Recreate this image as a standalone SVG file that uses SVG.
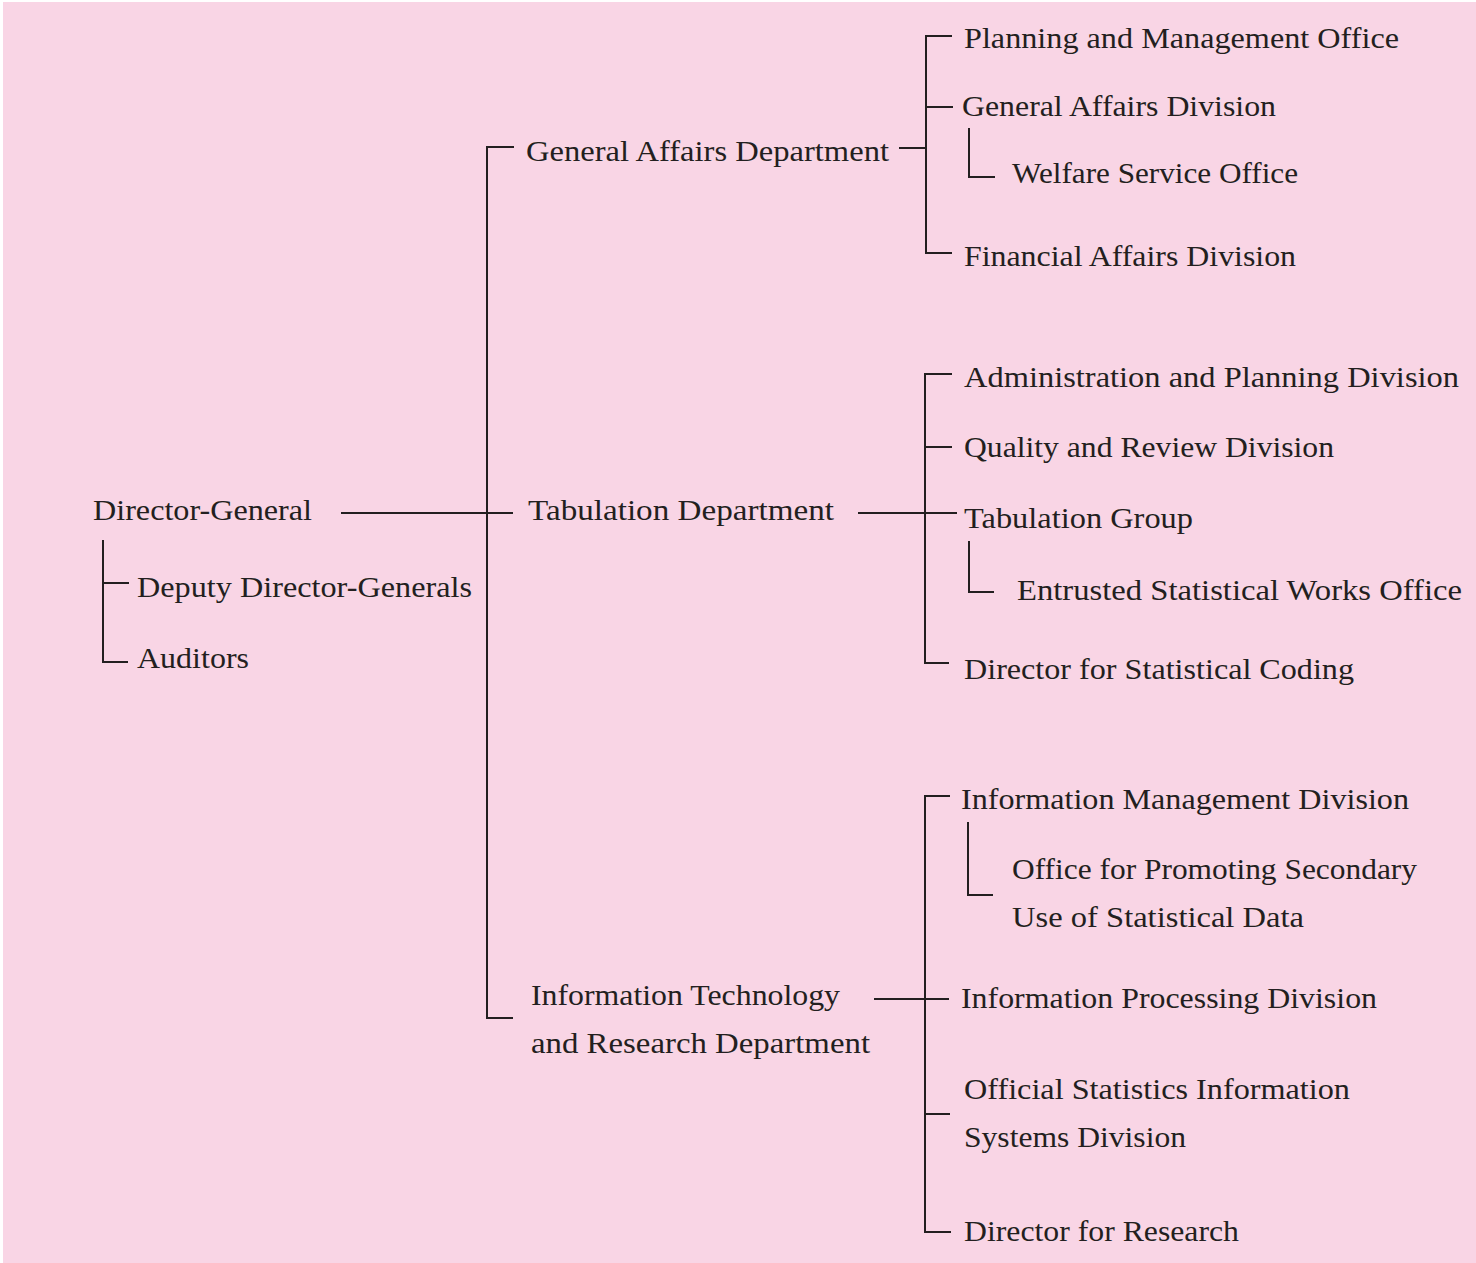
<svg xmlns="http://www.w3.org/2000/svg" width="1476" height="1263" viewBox="0 0 1476 1263">
<style>
.t{font-family:"Liberation Serif","Times New Roman",serif;font-size:29px;fill:#231f20;lengthAdjust:spacingAndGlyphs}
.c{stroke:#231f20;stroke-width:2;fill:none;stroke-linecap:square}
</style>
<rect x="0" y="0" width="1476" height="1263" fill="#ffffff"/>
<rect x="3" y="2" width="1473" height="1261" fill="#f9d5e5"/>
<g id="connectors" class="c">
<path d="M103,541 V662 H127 M103,583 H128"/>
<path d="M342,513 H512 M513,147 H487 V1018 H512"/>
<path d="M900,148 H926 M951,36 H926 V253 H951 M926,107 H952 M969,129 V177 H994"/>
<path d="M859,513 H956 M951,374 H925 V663 H948 M925,447 H951 M969,542 V592 H993"/>
<path d="M875,999 H948 M949,796 H925 V1232 H950 M925,1114 H949 M968,823 V895 H992"/>
</g>
<g id="director-general"><text class="t" x="93" y="520" textLength="219" lengthAdjust="spacingAndGlyphs">Director-General</text></g>
<g id="deputy"><text class="t" x="137" y="597" textLength="335" lengthAdjust="spacingAndGlyphs">Deputy Director-Generals</text></g>
<g id="auditors"><text class="t" x="137" y="668" textLength="112" lengthAdjust="spacingAndGlyphs">Auditors</text></g>
<g id="general-affairs-dept"><text class="t" x="526" y="161" textLength="363" lengthAdjust="spacingAndGlyphs">General Affairs Department</text></g>
<g id="tabulation-dept"><text class="t" x="528" y="520" textLength="306" lengthAdjust="spacingAndGlyphs">Tabulation Department</text></g>
<g id="it-research-dept"><text class="t" x="531" y="1005" textLength="309" lengthAdjust="spacingAndGlyphs">Information Technology</text><text class="t" x="531" y="1053" textLength="339" lengthAdjust="spacingAndGlyphs">and Research Department</text></g>
<g id="planning-mgmt"><text class="t" x="964" y="48" textLength="435" lengthAdjust="spacingAndGlyphs">Planning and Management Office</text></g>
<g id="general-affairs-div"><text class="t" x="962" y="116" textLength="314" lengthAdjust="spacingAndGlyphs">General Affairs Division</text></g>
<g id="welfare"><text class="t" x="1012" y="183" textLength="286" lengthAdjust="spacingAndGlyphs">Welfare Service Office</text></g>
<g id="financial"><text class="t" x="964" y="266" textLength="332" lengthAdjust="spacingAndGlyphs">Financial Affairs Division</text></g>
<g id="admin-planning"><text class="t" x="964" y="387" textLength="495" lengthAdjust="spacingAndGlyphs">Administration and Planning Division</text></g>
<g id="quality-review"><text class="t" x="964" y="457" textLength="370" lengthAdjust="spacingAndGlyphs">Quality and Review Division</text></g>
<g id="tabulation-group"><text class="t" x="964" y="528" textLength="229" lengthAdjust="spacingAndGlyphs">Tabulation Group</text></g>
<g id="entrusted"><text class="t" x="1017" y="600" textLength="445" lengthAdjust="spacingAndGlyphs">Entrusted Statistical Works Office</text></g>
<g id="coding"><text class="t" x="964" y="679" textLength="390" lengthAdjust="spacingAndGlyphs">Director for Statistical Coding</text></g>
<g id="info-mgmt"><text class="t" x="961" y="809" textLength="448" lengthAdjust="spacingAndGlyphs">Information Management Division</text></g>
<g id="secondary-use"><text class="t" x="1012" y="879" textLength="405" lengthAdjust="spacingAndGlyphs">Office for Promoting Secondary</text><text class="t" x="1012" y="927" textLength="292" lengthAdjust="spacingAndGlyphs">Use of Statistical Data</text></g>
<g id="info-processing"><text class="t" x="961" y="1008" textLength="416" lengthAdjust="spacingAndGlyphs">Information Processing Division</text></g>
<g id="official-stats"><text class="t" x="964" y="1099" textLength="386" lengthAdjust="spacingAndGlyphs">Official Statistics Information</text><text class="t" x="964" y="1147" textLength="222" lengthAdjust="spacingAndGlyphs">Systems Division</text></g>
<g id="research"><text class="t" x="964" y="1241" textLength="275" lengthAdjust="spacingAndGlyphs">Director for Research</text></g>
</svg>
